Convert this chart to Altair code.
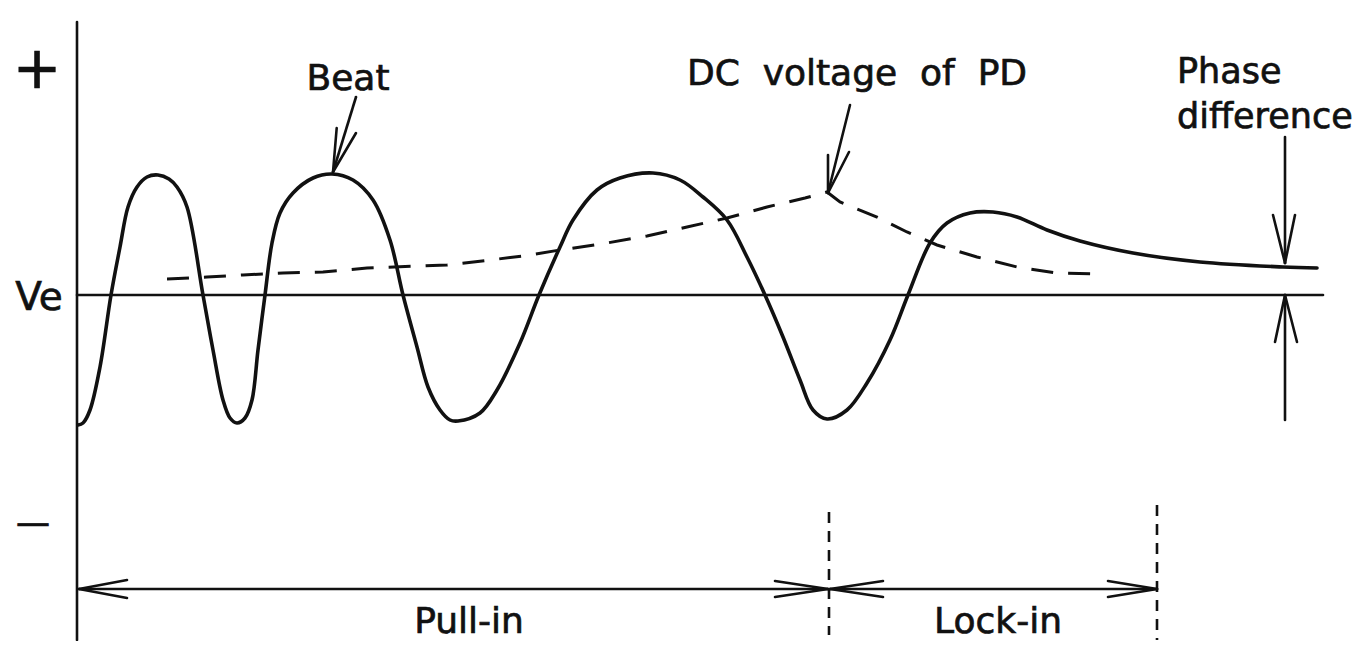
import altair as alt
import pandas as pd

# ---- data (time t in arbitrary units, voltage v relative to Ve = 0) ----
beat_t = [0.1, 0.6, 1.3, 2.3, 3.4, 4.3, 5.1, 6.0, 7.0, 8.1, 9.2, 10.0, 11.0, 12.6,
          13.6, 14.6, 15.3, 16.0, 16.8, 17.5, 18.1, 18.8, 19.5, 20.3, 21.6, 23.6,
          25.5, 27.6, 29.6, 31.3, 32.6, 34.0, 35.1, 36.3, 37.3, 38.1, 40.3, 42.0,
          44.3, 46.2, 48.3, 49.6, 52.0, 54.3, 57.6, 60.3, 62.6, 65.0, 67.0, 68.8,
          70.6, 72.3, 73.6, 75.0, 77.0, 79.0, 81.3, 83.1, 85.3, 87.0, 89.3, 91.6,
          94.0, 97.0, 100.3, 105.6, 112.3, 120.6, 124.0]
beat_v = [-1.30, -1.28, -1.15, -0.72, 0.0, 0.48, 0.88, 1.08, 1.18, 1.20, 1.16, 1.08, 0.88, 0.0,
          -0.55, -1.05, -1.23, -1.28, -1.23, -1.05, -0.55, 0.0, 0.52, 0.82, 1.02, 1.17,
          1.21, 1.15, 0.95, 0.55, 0.0, -0.52, -0.92, -1.15, -1.25, -1.26, -1.18, -0.95,
          -0.48, 0.0, 0.48, 0.75, 1.05, 1.17, 1.22, 1.15, 0.98, 0.75, 0.38, 0.0,
          -0.42, -0.85, -1.15, -1.24, -1.15, -0.88, -0.45, 0.0, 0.52, 0.72, 0.82, 0.83,
          0.78, 0.65, 0.54, 0.42, 0.33, 0.28, 0.27]

dc_t = [9.0, 13.0, 16.6, 20.6, 24.6, 29.0, 37.0, 41.3, 44.6, 48.3, 53.0, 57.0, 61.0,
        65.0, 69.0, 72.8, 75.0, 76.3, 80.0, 83.0, 86.0, 90.0, 94.0, 98.0, 102.6]
dc_v = [0.16, 0.18, 0.20, 0.22, 0.23, 0.27, 0.30, 0.35, 0.39, 0.45, 0.52, 0.59, 0.68,
        0.77, 0.88, 0.97, 1.03, 0.93, 0.78, 0.63, 0.50, 0.38, 0.28, 0.22, 0.21]

# solid segments: axis, Ve line, arrows (shafts and arrow-head wings)
seg_t  = [0.0, 0.0,
          27.9, 25.97, 27.9,
          77.3, 75.1, 77.2,
          120.8, 119.6, 121.8,
          120.8, 119.8, 122.0,
          0.2, 5.0, 5.0, 69.8, 69.8,
          75.3, 80.6, 80.6, 103.1, 103.1]
seg_v  = [2.73, 0.0,
          1.98, 1.67, 1.62,
          1.90, 1.40, 1.43,
          1.58, 0.80, 0.80,
          -1.25, -0.47, -0.47,
          -2.94, -2.85, -3.03, -2.86, -3.02,
          -2.94, -2.86, -3.02, -2.86, -3.02]
seg_t2 = [0.0, 124.6,
          25.6, 25.6, 25.6,
          75.1, 75.1, 75.1,
          120.8, 120.8, 120.8,
          120.8, 120.8, 120.8,
          75.1, 0.2, 0.2, 75.1, 75.1,
          108.0, 75.3, 75.3, 108.0, 108.0]
seg_v2 = [-3.45, 0.0,
          1.23, 1.23, 1.23,
          1.02, 1.02, 1.02,
          0.32, 0.32, 0.32,
          0.0, 0.0, 0.0,
          -2.94, -2.94, -2.94, -2.94, -2.94,
          -2.94, -2.94, -2.94, -2.94, -2.94]

# dashed vertical markers
mark_t = [75.2, 108.0]
mark_v = [-2.17, -2.10]
mark_v2 = [-3.40, -3.45]

# centred labels
NB = "\u00a0"
lab_text = ["+", "Ve", "\u2014", "Beat", "DC " + NB + "voltage " + NB + "of " + NB + "PD",
            "Pull-in", "Lock-in"]
lab_t = [-4.0, -3.8, -4.4, 27.1, 78.0, 39.2, 92.1]
lab_v = [2.07, -0.15, -2.39, 2.05, 2.10, -3.375, -3.375]
lab_size = [58, 39, 34, 36, 36, 36, 36]

# left-aligned labels
left_text = ["Phase", "difference"]
left_t = [110.0, 110.0]
left_v = [2.12, 1.67]

# ---- chart ----
W, H = 1344, 633
xs = alt.Scale(domain=[-6.9, 127.5], nice=False, zero=False)
ys = alt.Scale(domain=[(295 - (8 + H)) / 100, 2.87], nice=False, zero=False)

def X(f):
    return alt.X(f, type="quantitative", scale=xs, axis=None)

def Y(f):
    return alt.Y(f, type="quantitative", scale=ys, axis=None)

beat_df = pd.DataFrame({"t": beat_t, "v": beat_v})
dc_df = pd.DataFrame({"t": dc_t, "v": dc_v})
seg_df = pd.DataFrame({"t": seg_t, "v": seg_v, "t2": seg_t2, "v2": seg_v2})
mark_df = pd.DataFrame({"t": mark_t, "v": mark_v, "v2": mark_v2})
lab_df = pd.DataFrame({"label": lab_text, "t": lab_t, "v": lab_v, "s": lab_size})
left_df = pd.DataFrame({"label": left_text, "t": left_t, "v": left_v})

ink = "#111111"

beat = alt.Chart(beat_df).mark_line(
    interpolate="catmull-rom", color=ink, strokeWidth=3.6, strokeCap="round"
).encode(x=X("t"), y=Y("v"), order="t:Q")

dc = alt.Chart(dc_df).mark_line(
    interpolate="linear", color=ink, strokeWidth=3, strokeDash=[22, 15]
).encode(x=X("t"), y=Y("v"), order="t:Q")

segs = alt.Chart(seg_df).mark_rule(color=ink, strokeWidth=2.6, strokeCap="round").encode(
    x=X("t"), y=Y("v"), x2="t2:Q", y2="v2:Q"
)

marks = alt.Chart(mark_df).mark_rule(color=ink, strokeWidth=2.6, strokeDash=[11, 8]).encode(
    x=X("t"), y=Y("v"), y2="v2:Q"
)

labels = alt.Chart(lab_df).mark_text(
    font="DejaVu Sans", color=ink, stroke=ink, strokeWidth=0.7,
    align="center", baseline="alphabetic"
).encode(x=X("t"), y=Y("v"), text="label:N", size=alt.Size("s:Q", scale=None, legend=None))

left_labels = alt.Chart(left_df).mark_text(
    font="DejaVu Sans", color=ink, stroke=ink, strokeWidth=0.7,
    align="left", baseline="alphabetic", fontSize=35
).encode(x=X("t"), y=Y("v"), text="label:N")

chart = alt.layer(marks, segs, dc, beat, labels, left_labels).properties(
    width=W, height=H, padding=0, autosize="none", background="white"
).configure_view(stroke=None)

chart.save("out.html", embed_options={"renderer": "svg", "actions": False})
